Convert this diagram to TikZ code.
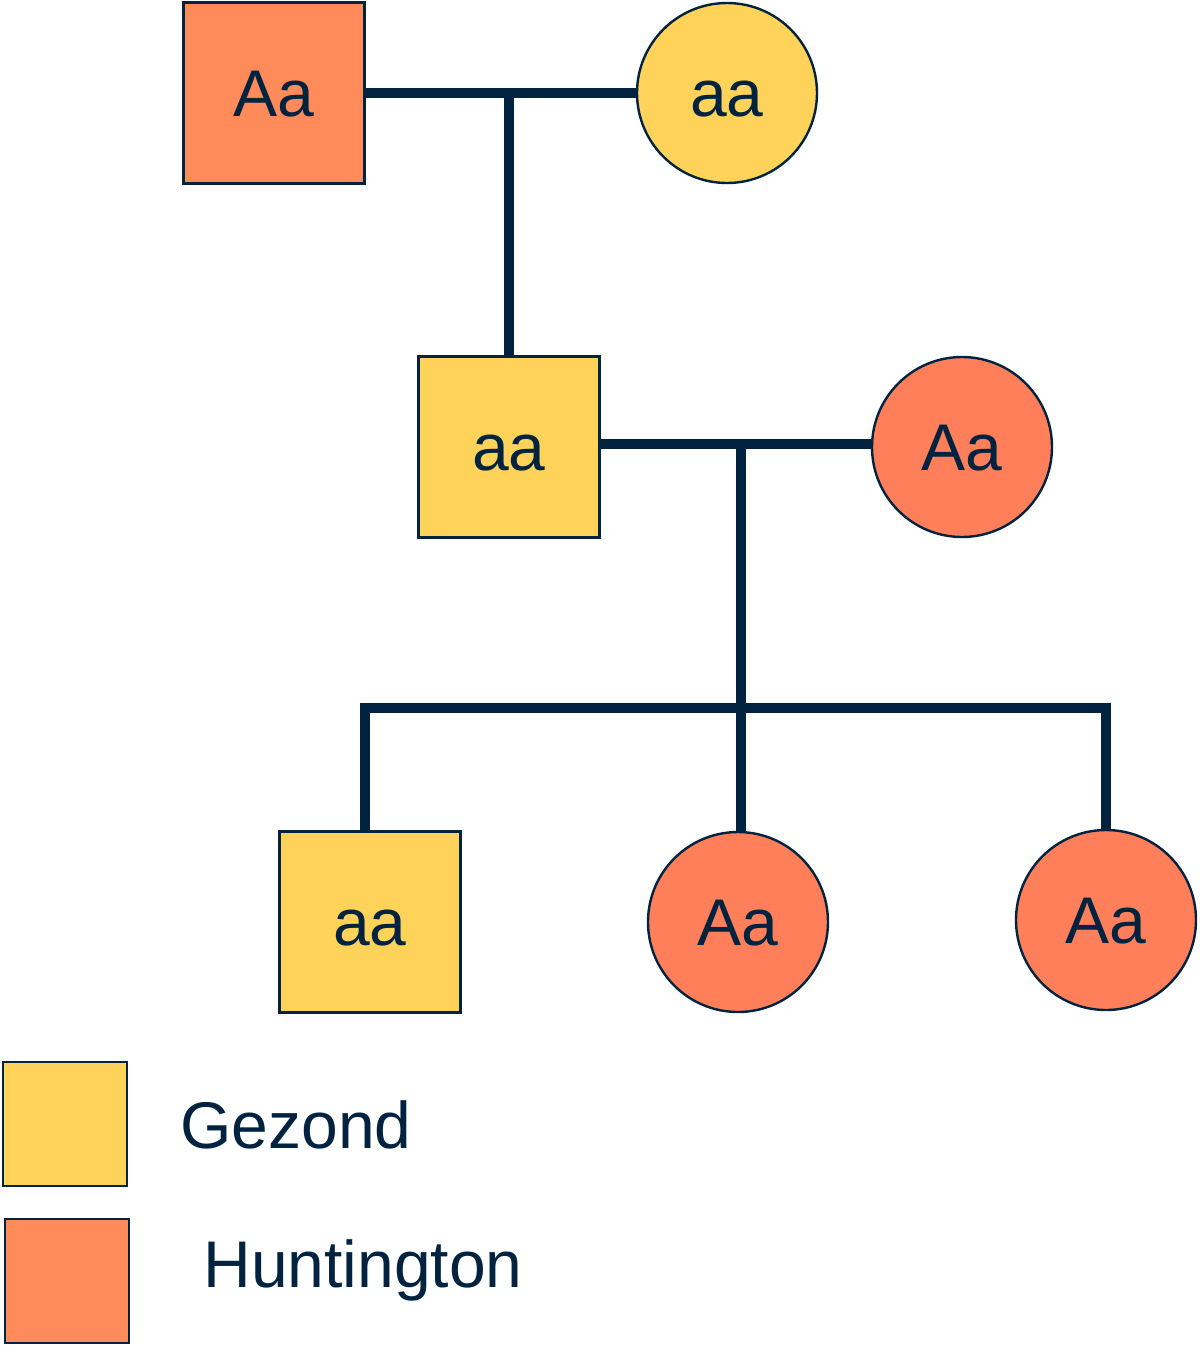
\documentclass[tikz,border=0pt]{standalone}
\usepackage{fontspec}
\setmainfont{Liberation Sans}
\usetikzlibrary{positioning}
\definecolor{navy}{RGB}{1,35,64}
\definecolor{gezond}{RGB}{255,211,90}
\definecolor{huntsq}{RGB}{255,138,90}
\definecolor{huntci}{RGB}{255,127,90}
\tikzset{
  person/.style={draw=navy, line width=1.2pt, inner sep=0pt, text=navy,
    font=\fontsize{33}{36}\selectfont, text height=23.7pt, text depth=0pt},
  male/.style={person, rectangle, minimum size=90.5pt},
  female/.style={person, circle, minimum size=90pt},
  link/.style={draw=navy, line width=5pt},
  legendtext/.style={anchor=west, text=navy, inner sep=0pt,
    font=\fontsize{33}{36}\selectfont}
}

\begin{document}
\begin{tikzpicture}[x=0.5pt,y=-0.5pt]
\useasboundingbox (0,0) rectangle (1200,1346);
% first generation
\node[male, fill=huntsq] (f1) at (274,93) {Aa};
\node[female, fill=gezond] (m1) at (727,93) {aa};
% second generation
\node[male, fill=gezond] (c1) at (509,447) {aa};
\node[female, fill=huntci] (w1) at (962,447) {Aa};
% third generation
\node[male, fill=gezond] (k1) at (370,922) {aa};
\node[female, fill=huntci] (k2) at (738,922) {Aa};
\node[female, fill=huntci] (k3) at (1106,920) {Aa};
% junctions
\coordinate (j1) at (509,93);
\coordinate (j2) at (741,444);
\coordinate (sL) at (365,708);
\coordinate (sR) at (1106,708);
% connectors
\draw[link] (f1.east) -- (m1.west);
\draw[link] (j1) -- (c1.north);
\draw[link] (c1.east |- j2) -- (w1.west |- j2);
\draw[link] (j2) -- (j2 |- k2.north);
\draw[link] (sL |- k1.north) -- (sL) -- (sR) -- (k3.north);
% legend
\node[person, rectangle, minimum size=62pt, fill=gezond] (lg) at (65,1124) {};
\node[person, rectangle, minimum size=62pt, fill=huntsq] (lh) at (67,1281) {};
\node[legendtext] (tg) at (180,1125) {Gezond};
\node[legendtext] (th) at (203,1270) {Huntington};
\end{tikzpicture}
\end{document}
